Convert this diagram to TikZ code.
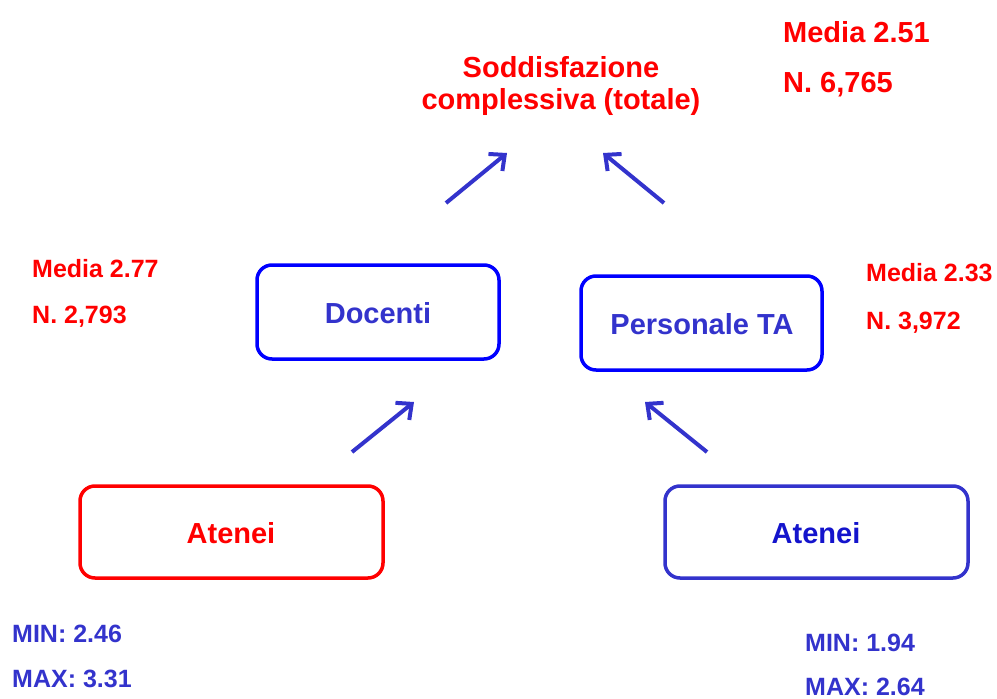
\documentclass[tikz,border=0pt]{standalone}
\usepackage{fontspec}
\setmainfont{Liberation Sans}
\usetikzlibrary{arrows.meta}
\definecolor{myred}{HTML}{FF0000}
\definecolor{myblue}{HTML}{3333CC}
\definecolor{boxblue}{HTML}{0000FF}
\definecolor{darkblue}{HTML}{1414CC}
\tikzset{
  big/.style={font=\fontsize{29}{34}\selectfont\bfseries, inner sep=0pt},
  small/.style={font=\fontsize{25}{30}\selectfont\bfseries, inner sep=0pt},
  box/.style={draw, line width=3.5pt, rounded corners=15pt},
  arr/.style={draw=myblue, line width=4pt, -{Straight Barb[length=12pt,width=22pt,line width=4pt]}},
}
\begin{document}
\begin{tikzpicture}[x=1pt,y=-1pt]
\useasboundingbox (0,0) rectangle (997,699);
% title
\node[big, text=myred, anchor=base] (t1) at (561,77) {Soddisfazione};
\node[big, text=myred, anchor=base] (t2) at (561,109) {complessiva (totale)};
\node[big, text=myred, anchor=base west] (m1) at (783,42) {Media 2.51};
\node[big, text=myred, anchor=base west] (n1) at (783,92) {N. 6,765};
% side stats
\node[small, text=myred, anchor=base west] (m2) at (32,277) {Media 2.77};
\node[small, text=myred, anchor=base west] (n2) at (32,323) {N. 2,793};
\node[small, text=myred, anchor=base west] (m3) at (866,281) {Media 2.33};
\node[small, text=myred, anchor=base west] (n3) at (866,329) {N. 3,972};
% boxes
\draw[box, draw=boxblue] (257,265) rectangle (499,359);
\node[big, text=myblue, anchor=base] (doc) at (378,323) {Docenti};
\draw[box, draw=boxblue] (581,276) rectangle (822,370);
\node[big, text=myblue, anchor=base] (pta) at (702,334) {Personale TA};
\draw[box, draw=myred] (80,486) rectangle (383,578);
\node[big, text=myred, anchor=base] (at1) at (231,543) {Atenei};
\draw[box, draw=myblue] (665,486) rectangle (968,578);
\node[big, text=darkblue, anchor=base] (at2) at (816,543) {Atenei};
% min/max
\node[small, text=myblue, anchor=base west] (min1) at (12,642) {MIN: 2.46};
\node[small, text=myblue, anchor=base west] (max1) at (12,687) {MAX: 3.31};
\node[small, text=myblue, anchor=base west] (min2) at (805,651) {MIN: 1.94};
\node[small, text=myblue, anchor=base west] (max2) at (805,695) {MAX: 2.64};
% arrows
\coordinate (a1s) at (446,203); \coordinate (a1e) at (507,153);
\coordinate (a2s) at (664,203); \coordinate (a2e) at (603,153);
\coordinate (a3s) at (352,452); \coordinate (a3e) at (414,402);
\coordinate (a4s) at (707,452); \coordinate (a4e) at (645,402);
\draw[arr] (a1s) -- (a1e);
\draw[arr] (a2s) -- (a2e);
\draw[arr] (a3s) -- (a3e);
\draw[arr] (a4s) -- (a4e);
\end{tikzpicture}
\end{document}
